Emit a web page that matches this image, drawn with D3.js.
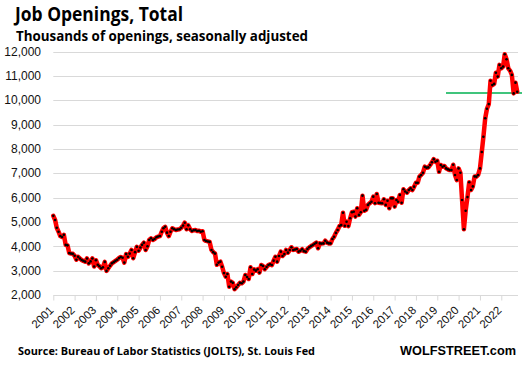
<!DOCTYPE html>
<html><head><meta charset="utf-8">
<script src="https://cdn.jsdelivr.net/npm/d3@7"></script>
<style>body{margin:0;background:#fff}svg{display:block}</style>
</head><body>
<svg id="c" width="523" height="368"></svg>
<script>
const title = "Job Openings, Total";
const subtitle = "Thousands of openings, seasonally adjusted";
const source = "Source: Bureau of Labor Statistics (JOLTS), St. Louis Fed";
const brand = "WOLFSTREET.com";
const startYear = 2001;
const yearLabels = ["2001","2002","2003","2004","2005","2006","2007","2008","2009","2010","2011","2012","2013","2014","2015","2016","2017","2018","2019","2020","2021","2022"];
const yTicks = [2000,3000,4000,5000,6000,7000,8000,9000,10000,11000,12000];
const refLevel = 10300;
// monthly job openings (thousands), Jan 2001 onward
const v2001 = [5250,5080,4760,4600,4420,4380,4470,4060,4040,3720,3700,3690];
const v2002 = [3610,3450,3570,3500,3440,3400,3370,3500,3300,3380,3500,3170];
const v2003 = [3430,3240,3180,3100,3140,3360,2990,3100,3200,3300,3350,3400];
const v2004 = [3450,3520,3560,3530,3330,3680,3570,3700,3850,3510,3760,3980];
const v2005 = [3820,3950,4060,4150,3850,4000,4260,4330,4260,4300,4370,4400];
const v2006 = [4420,4600,4740,4800,4560,4420,4600,4740,4700,4670,4690,4700];
const v2007 = [4760,4850,4970,4700,4860,4700,4630,4660,4670,4630,4640,4600];
const v2008 = [4620,4260,4220,4200,4180,3850,3760,3700,3240,3330,3370,3160];
const v2009 = [2900,2750,2860,2340,2550,2500,2240,2320,2410,2500,2480,2550];
const v2010 = [2820,2740,2660,3140,2860,3050,3000,3060,2920,3230,3190,3060];
const v2011 = [3150,3230,3260,3230,3410,3570,3370,3600,3780,3600,3680,3850];
const v2012 = [3740,3850,3960,3850,3870,3890,3780,3820,3880,3800,3780,3890];
const v2013 = [3960,4010,4050,4100,4150,3920,4120,4110,4120,4230,4150,4120];
const v2014 = [4120,4300,4390,4550,4670,4830,4870,5380,4840,5010,4830,5150];
const v2015 = [5400,5420,5220,5560,5290,5400,6080,5460,5500,5700,5770,5830];
const v2016 = [6040,5770,6150,5790,5780,5770,5930,5700,5870,5560,5970,5970];
const v2017 = [5630,5900,5830,6110,5790,6340,6250,6200,6310,6380,6310,6450];
const v2018 = [6610,6610,6860,6930,7020,7270,7230,7240,7340,7450,7580,7470];
const v2019 = [7510,7060,7340,7270,7300,7200,7160,7130,7130,7350,6930,6720];
const v2020 = [7200,7020,5900,4700,5460,6020,6630,6310,6460,6870,6860,6930];
const v2021 = [7200,7870,8500,9260,9650,9840,10800,10620,10670,11130,10970,11450];
const v2022 = [11310,11380,11890,11680,11310,11210,11040,10280,10720,10350];

const values = [v2001,v2002,v2003,v2004,v2005,v2006,v2007,v2008,v2009,v2010,v2011,v2012,v2013,v2014,v2015,v2016,v2017,v2018,v2019,v2020,v2021,v2022];
const data = [];
values.forEach((arr,i)=>arr.forEach((v,m)=>data.push({date:new Date(startYear+i,m,1), v})));

const svg = d3.select("#c");
const x = d3.scaleTime().domain([new Date(2001,0,1), new Date(2023,0,1)]).range([53.3, 522.6]);
const y = d3.scaleLinear().domain([2000,12000]).range([295,51.5]);

svg.append("text").attr("x",15).attr("y",21).attr("font-family","Open Sans, Noto Sans, sans-serif")
  .attr("font-weight","bold").attr("font-size",19).attr("fill","#000").attr("textLength",168).attr("lengthAdjust","spacingAndGlyphs").text(title);
svg.append("text").attr("x",16).attr("y",41).attr("font-family","Open Sans, Noto Sans, sans-serif")
  .attr("font-weight","bold").attr("font-size",14).attr("fill","#000").attr("textLength",292).attr("lengthAdjust","spacingAndGlyphs").text(subtitle);

// grid
svg.append("g").selectAll("line").data(yTicks.filter(d=>d>2000)).join("line")
  .attr("x1",53.3).attr("x2",518).attr("y1",d=>Math.round(y(d))+0.5).attr("y2",d=>Math.round(y(d))+0.5)
  .attr("stroke","#d9d9d9").attr("stroke-width",1);

// y labels
svg.append("g").selectAll("text").data(yTicks).join("text")
  .attr("x",41).attr("y",d=>y(d)).attr("dy","0.35em").attr("text-anchor","end")
  .attr("font-family","Liberation Sans, Arial, sans-serif").attr("font-size",12).attr("fill","#111")
  .text(d=>d3.format(",")(d));

// x axis
const xAxis = d3.axisBottom(x).tickValues(yearLabels.map(s=>new Date(+s,0,1))).tickSize(5).tickFormat("");
const gx = svg.append("g").attr("transform","translate(0,295.5)").call(xAxis);
gx.select(".domain").attr("stroke","#d9d9d9").attr("d","M53.3,0H518");
gx.selectAll(".tick line").attr("stroke","#d9d9d9");
svg.append("g").selectAll("text").data(yearLabels).join("text")
  .attr("transform",d=>`translate(${x(new Date(+d,0,1))+1},${311}) rotate(-45)`)
  .attr("text-anchor","end").attr("font-family","Liberation Sans, Arial, sans-serif").attr("font-size",11.5).attr("fill","#111")
  .text(d=>d);

// green reference line
svg.append("line").attr("x1",446).attr("x2",522).attr("y1",y(refLevel)).attr("y2",y(refLevel))
  .attr("stroke","#00b050").attr("stroke-width",1.5);

// series
const line = d3.line().x(d=>x(d.date)).y(d=>y(d.v));
svg.append("path").datum(data).attr("d",line).attr("fill","none").attr("stroke","#ff0000")
  .attr("stroke-width",4.5).attr("stroke-linejoin","round").attr("stroke-linecap","round");
svg.append("g").selectAll("circle").data(data).join("circle")
  .attr("cx",d=>x(d.date)).attr("cy",d=>y(d.v)).attr("r",1.3).attr("fill","#000");

svg.append("text").attr("x",18).attr("y",355).attr("font-family","Open Sans, Noto Sans, sans-serif")
  .attr("font-weight","bold").attr("font-size",11).attr("fill","#000").attr("textLength",297).attr("lengthAdjust","spacingAndGlyphs").text(source);
svg.append("text").attr("x",400).attr("y",355).attr("font-family","Liberation Sans, Arial, sans-serif")
  .attr("font-weight","bold").attr("font-size",13).attr("fill","#000").attr("textLength",116).attr("lengthAdjust","spacingAndGlyphs").text(brand);
</script>
</body></html>
